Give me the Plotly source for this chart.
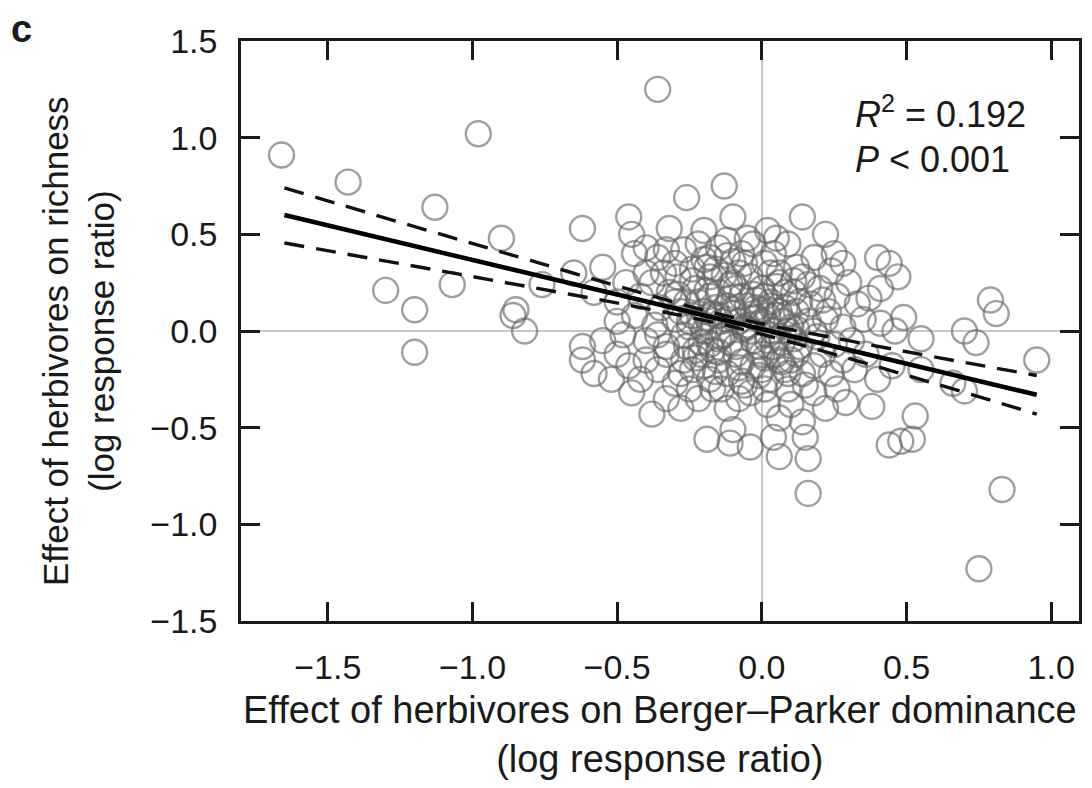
import plotly.graph_objects as go

# ---- scatter data (log response ratios) ----
dominance = [
    -1.66, -1.43, -1.13, -0.98, -0.90, -1.30, -1.20, -1.20, -1.07, -0.85, -0.82, -0.36, -0.86,
    -0.46, -0.32, -0.26, -0.13, -0.10, 0.02, 0.14, 0.22, -0.62, -0.45, -0.20, -0.05,
    -0.44, -0.40, -0.36, -0.30, -0.27, -0.22, -0.18, -0.15, -0.10, -0.07, -0.03, 0.01, 0.04,
    0.09, 0.12, 0.18, 0.24, 0.28, 0.40, 0.44, 0.47, -0.65, -0.55, 0.06, -0.24, -0.12,
    -0.76, -0.58, -0.50, -0.47, -0.42, -0.38, -0.35, -0.32, -0.29, -0.26, -0.23, -0.20,
    -0.18, -0.15, -0.12, -0.10, -0.07, -0.04, -0.02, 0.00, 0.03, 0.06, 0.08, 0.11, 0.14,
    0.17, 0.20, 0.23, 0.26, 0.30, 0.33, 0.37, 0.41, -0.16, -0.08, 0.12,
    -0.55, -0.50, -0.48, -0.44, -0.40, -0.37, -0.33, -0.30, -0.27, -0.24, -0.21, -0.18,
    -0.15, -0.12, -0.09, -0.06, -0.03, 0.00, 0.02, 0.05, 0.07, 0.10, 0.13, 0.16, 0.19,
    0.22, 0.25, 0.28, 0.31, 0.35, 0.41, 0.46, 0.49, 0.55, 0.70, 0.74, 0.79, 0.81, 0.95,
    -0.62, -0.10, 0.04,
    -0.62, -0.58, -0.52, -0.50, -0.46, -0.42, -0.40, -0.36, -0.33, -0.30, -0.27, -0.24,
    -0.21, -0.18, -0.15, -0.12, -0.09, -0.06, -0.03, 0.00, 0.03, 0.06, 0.09, 0.12, 0.15,
    0.18, 0.21, 0.24, 0.28, 0.32, 0.36, 0.40, 0.45, 0.66, 0.70, 0.55, -0.20, 0.00,
    -0.38, -0.33, -0.28, -0.22, -0.17, -0.12, -0.08, -0.04, 0.02, 0.06, 0.10, 0.14, 0.18,
    0.22, 0.29, 0.38, 0.53, -0.45, 0.26,
    -0.19, -0.10, 0.04, 0.15, -0.04, 0.06, 0.16, 0.16, 0.44, 0.48, 0.52, 0.75, 0.83, -0.11,
    -0.28, -0.25, -0.22, -0.19, -0.16, -0.13, -0.11, -0.08, -0.05, -0.02, 0.01, 0.04, 0.07,
    0.10, 0.13, -0.26, -0.23, -0.20, -0.17, -0.14, -0.11, -0.07, -0.04, -0.01, 0.02, 0.05,
    0.08, 0.11, -0.30, -0.34, -0.19, -0.06, 0.03, 0.16, -0.28, -0.14, 0.01, 0.14, -0.36,
    -0.24, -0.09, 0.18, 0.21, -0.33, -0.18, 0.09, -0.40, 0.25, 0.05, -0.25,
    -0.21, -0.17, -0.14, -0.10, -0.06, -0.02, 0.02, 0.06, 0.09, -0.23, -0.19, -0.15,
    -0.11, -0.08, -0.03, 0.01, 0.05, 0.08, -0.20, -0.16, -0.12, -0.07, -0.03, 0.03,
    0.07, 0.11, -0.25, -0.13, -0.01, 0.12, -0.18, -0.05, 0.09, -0.29, -0.15, 0.00,
]
richness = [
    0.91, 0.77, 0.64, 1.02, 0.48, 0.21, 0.11, -0.11, 0.24, 0.11, 0.00, 1.25, 0.08,
    0.59, 0.53, 0.69, 0.75, 0.59, 0.52, 0.59, 0.50, 0.53, 0.50, 0.52, 0.48,
    0.40, 0.43, 0.38, 0.35, 0.42, 0.45, 0.38, 0.43, 0.36, 0.40, 0.45, 0.35, 0.40,
    0.45, 0.33, 0.38, 0.31, 0.35, 0.38, 0.35, 0.28, 0.30, 0.33, 0.30, 0.32, 0.47,
    0.24, 0.20, 0.15, 0.25, 0.18, 0.25, 0.12, 0.20, 0.28, 0.15, 0.22, 0.10,
    0.28, 0.20, 0.13, 0.25, 0.18, 0.28, 0.12, 0.22, 0.15, 0.25, 0.12, 0.20, 0.28,
    0.14, 0.22, 0.10, 0.18, 0.25, 0.14, 0.17, 0.22, 0.32, 0.30, 0.10,
    -0.05, 0.05, -0.02, 0.08, -0.05, 0.03, -0.08, 0.06, -0.02, 0.08, -0.06, 0.02,
    -0.04, 0.06, -0.08, 0.02, -0.05, 0.05, -0.02, 0.08, -0.06, 0.02, -0.08, 0.05, -0.03,
    0.06, -0.07, 0.02, -0.05, 0.06, 0.04, 0.00, 0.07, -0.04, 0.00, -0.06, 0.16, 0.09, -0.15,
    -0.08, 0.09, 0.00,
    -0.15, -0.22, -0.25, -0.12, -0.18, -0.25, -0.15, -0.20, -0.12, -0.27, -0.15, -0.20,
    -0.12, -0.25, -0.15, -0.22, -0.12, -0.28, -0.18, -0.12, -0.25, -0.15, -0.22, -0.12, -0.28,
    -0.18, -0.12, -0.22, -0.15, -0.20, -0.12, -0.25, -0.18, -0.27, -0.31, -0.20, -0.18, -0.20,
    -0.43, -0.35, -0.40, -0.35, -0.30, -0.40, -0.35, -0.32, -0.38, -0.45, -0.38, -0.47, -0.32,
    -0.40, -0.37, -0.39, -0.44, -0.32, -0.30,
    -0.56, -0.51, -0.55, -0.55, -0.60, -0.65, -0.66, -0.84, -0.59, -0.57, -0.56, -1.23, -0.82, -0.58,
    0.10, 0.02, 0.15, 0.07, 0.12, -0.02, 0.17, 0.05, 0.13, 0.07, 0.18, -0.08, 0.05,
    -0.15, 0.15, -0.08, -0.14, 0.00, -0.10, 0.05, -0.06, -0.16, 0.00, -0.08, 0.08, -0.12,
    0.20, -0.04, 0.15, 0.30, 0.33, 0.35, 0.30, 0.24, -0.22, -0.30, -0.30, -0.22, -0.02,
    0.26, 0.22, 0.00, 0.16, 0.42, 0.18, -0.30, 0.30, 0.40, 0.48, -0.30,
    0.04, 0.09, -0.03, 0.11, 0.01, 0.16, -0.05, 0.10, 0.00, -0.10, 0.21, -0.11,
    0.24, -0.19, 0.19, -0.14, 0.23, -0.20, 0.37, -0.21, 0.39, -0.26, 0.09, 0.13,
    -0.16, 0.26, 0.05, 0.29, -0.23, 0.01, -0.07, 0.03, 0.09, 0.19, 0.08, 0.11,
]

# ---- fitted regression line and 95% confidence band ----
fit_x = [-1.65, 0.95]
fit_y = [0.60, -0.33]
ci_x = [-1.65, -1.20, -0.80, -0.40, -0.10, 0.30, 0.60, 0.95]
ci_upper = [0.74, 0.54, 0.365, 0.19, 0.07, -0.05, -0.135, -0.23]
ci_lower = [0.455, 0.335, 0.227, 0.116, 0.021, -0.142, -0.273, -0.43]

x_ticks = [-1.5, -1.0, -0.5, 0.0, 0.5, 1.0]
y_ticks = [-1.5, -1.0, -0.5, 0.0, 0.5, 1.0, 1.5]

FONT = "Liberation Sans, Arial, Helvetica, sans-serif"
INK = "#1a1a1a"

fig = go.Figure()
fig.add_trace(go.Scatter(
    x=dominance, y=richness, mode="markers",
    marker=dict(symbol="circle-open", size=25,
                color="rgba(100,100,100,0.62)",
                line=dict(width=2.4, color="rgba(100,100,100,0.62)")),
    hoverinfo="skip", showlegend=False,
))
for band in (ci_upper, ci_lower):
    fig.add_trace(go.Scatter(
        x=ci_x, y=band, mode="lines", line_shape="spline",
        line=dict(color="#111111", width=3.4, dash="20px,12px"),
        hoverinfo="skip", showlegend=False,
    ))
fig.add_trace(go.Scatter(
    x=fit_x, y=fit_y, mode="lines",
    line=dict(color="#000000", width=4.5),
    hoverinfo="skip", showlegend=False,
))

axis_common = dict(
    showline=True, linecolor=INK, linewidth=2.5, mirror="allticks",
    ticks="inside", ticklen=19, tickwidth=2.5, tickcolor=INK,
    showgrid=False, zeroline=True, zerolinecolor="#c8c8c8", zerolinewidth=2,
    tickfont=dict(family=FONT, size=34, color=INK),
    ticklabelstandoff=14,
)

fig.update_layout(
    width=1092, height=788,
    margin=dict(l=241, r=10, t=41, b=167),
    paper_bgcolor="white", plot_bgcolor="white",
    xaxis=dict(range=[-1.80, 1.096], tickvals=x_ticks,
               ticktext=[f"{v:.1f}".replace("-", "\u2212") for v in x_ticks],
               **axis_common),
    yaxis=dict(range=[-1.5, 1.5], tickvals=y_ticks,
               ticktext=[f"{v:.1f}".replace("-", "\u2212") for v in y_ticks],
               **axis_common),
    annotations=[
        dict(text="Effect of herbivores on Berger\u2013Parker dominance<br>(log response ratio)",
             xref="paper", yref="paper", x=0.5, y=0, xanchor="center", yanchor="top",
             yshift=-66, showarrow=False,
             font=dict(family=FONT, size=38, color=INK)),
        dict(text="Effect of herbivores on richness<br>(log response ratio)",
             xref="paper", yref="paper", x=0, y=0.5, xanchor="center", yanchor="middle",
             xshift=-163, yshift=-10, textangle=-90, showarrow=False,
             font=dict(family=FONT, size=35, color=INK)),
        dict(text="<b>c</b>", xref="paper", yref="paper", x=0, y=1,
             xanchor="left", yanchor="middle", xshift=-232, yshift=12, showarrow=False,
             font=dict(family=FONT, size=38, color=INK)),
        dict(text="<i>R</i><sup>2</sup> = 0.192", xref="paper", yref="paper",
             x=0.730, y=0.878, xanchor="left", yanchor="middle", showarrow=False,
             font=dict(family=FONT, size=36, color=INK)),
        dict(text="<i>P</i> < 0.001", xref="paper", yref="paper",
             x=0.730, y=0.795, xanchor="left", yanchor="middle", showarrow=False,
             font=dict(family=FONT, size=36, color=INK)),
    ],
)

fig.write_html("out.html")
